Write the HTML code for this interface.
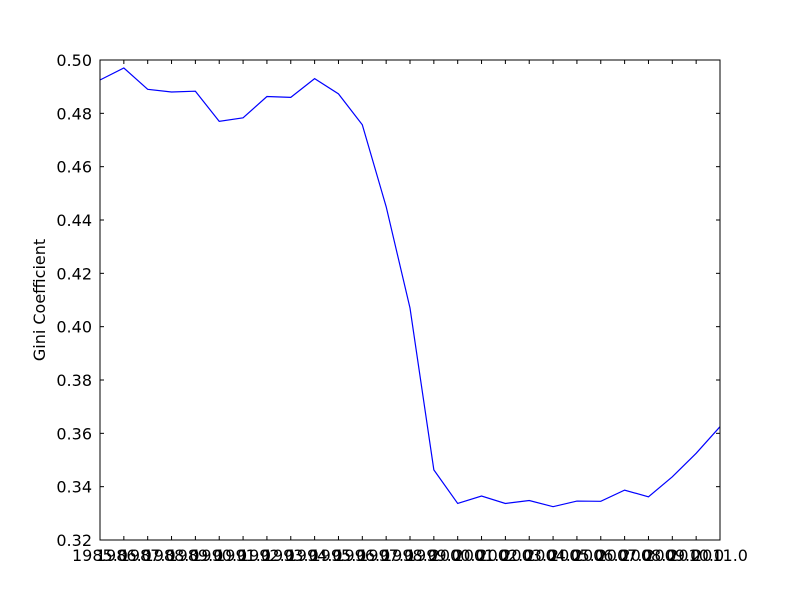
<!DOCTYPE html>
<html><head><meta charset="utf-8"><style>
body{margin:0;background:#fff}
svg text{font-family:"DejaVu Sans","Liberation Sans",sans-serif;font-size:16px;fill:#000}
</style></head><body>
<svg id="chart" width="800" height="600" xmlns="http://www.w3.org/2000/svg">
<rect width="800" height="600" fill="#fff"/>
<g id="ticks"></g>
<polyline id="line" fill="none" stroke="#0000ff" stroke-width="1.2"/>
<rect x="100" y="60" width="620" height="480" fill="none" stroke="#000" stroke-width="1"/>
<text transform="translate(45,300) rotate(-90)" text-anchor="middle">Gini Coefficient</text>
</svg>
<script>
const years=[1985,1986,1987,1988,1989,1990,1991,1992,1993,1994,1995,1996,1997,1998,1999,2000,2001,2002,2003,2004,2005,2006,2007,2008,2009,2010,2011];
const gini=[0.4925,0.497,0.489,0.488,0.4883,0.477,0.4783,0.4863,0.486,0.493,0.4873,0.4757,0.445,0.407,0.3463,0.3337,0.3365,0.3337,0.3348,0.3325,0.3346,0.3345,0.3387,0.3362,0.3437,0.3525,0.3625];
const yTicks=[0.32,0.34,0.36,0.38,0.40,0.42,0.44,0.46,0.48,0.50];
const X0=100,X1=720,Y0=540,Y1=60;
const xMin=years[0],xMax=years[years.length-1],yMin=0.32,yMax=0.50;
const xs=v=>X0+(v-xMin)/(xMax-xMin)*(X1-X0);
const ys=v=>Y0-(v-yMin)/(yMax-yMin)*(Y0-Y1);
const NS="http://www.w3.org/2000/svg";
const g=document.getElementById('ticks');
function mk(t,a){const e=document.createElementNS(NS,t);for(const k in a)e.setAttribute(k,a[k]);return e;}
yTicks.forEach(v=>{
  const y=ys(v);
  const l1=mk('line',{x1:X0,x2:X0+4,y1:y,y2:y,stroke:'#000'});
  
  
  g.appendChild(l1);
  const l2=mk('line',{x1:X1-4,x2:X1,y1:y,y2:y,stroke:'#000'});
  
  
  g.appendChild(l2);
  const t=mk('text',{x:X0-8,y:y+6,'text-anchor':'end'});
  t.textContent=v.toFixed(2);
  
  
  g.appendChild(t);
});
years.forEach(v=>{
  const x=xs(v);
  const l1=mk('line',{x1:x,x2:x,y1:Y0,y2:Y0-4,stroke:'#000'});
  
  
  g.appendChild(l1);
  const l2=mk('line',{x1:x,x2:x,y1:Y1,y2:Y1+4,stroke:'#000'});
  
  
  g.appendChild(l2);
  const t=mk('text',{x:x,y:Y0+21,'text-anchor':'middle'});
  t.textContent=v.toFixed(1);
  
  
  g.appendChild(t);
});
document.getElementById('line').setAttribute('points',years.map((v,i)=>xs(v)+','+ys(gini[i])).join(' '));
</script>
</body></html>
